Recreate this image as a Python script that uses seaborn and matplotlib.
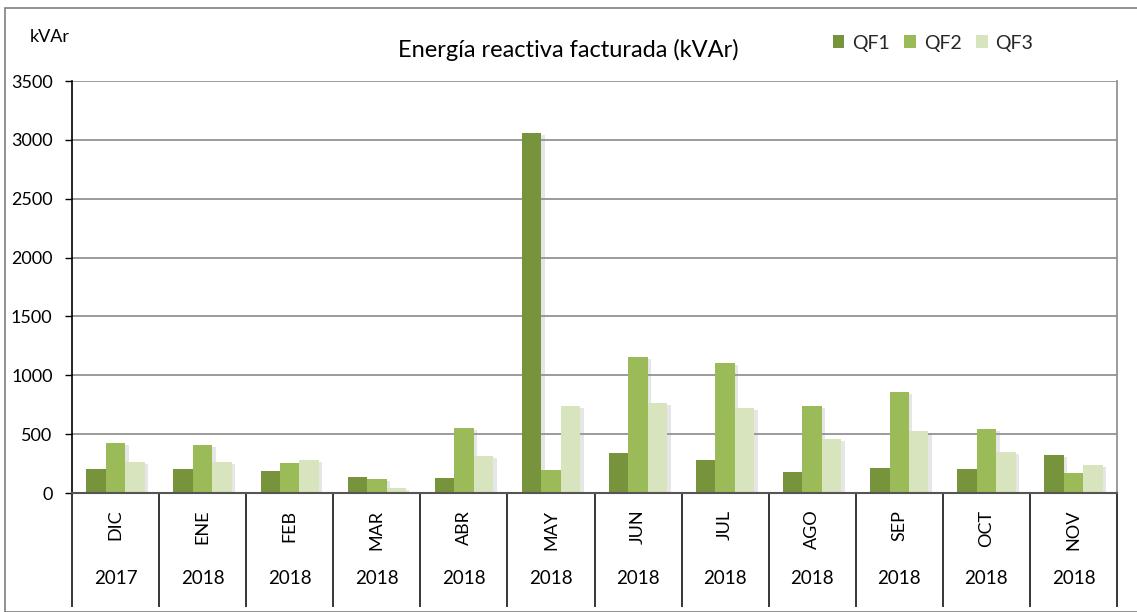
import numpy as np
import pandas as pd
import seaborn as sns
import matplotlib
matplotlib.use("Agg")
import matplotlib.pyplot as plt
import matplotlib.patheffects as pe
from matplotlib.patches import Rectangle

months = ["DIC", "ENE", "FEB", "MAR", "ABR", "MAY", "JUN", "JUL", "AGO", "SEP", "OCT", "NOV"]
years = ["2017", "2018", "2018", "2018", "2018", "2018", "2018", "2018", "2018", "2018", "2018", "2018"]
qf1 = [204, 204, 184, 136, 130, 3061, 342, 280, 178, 210, 201, 320]
qf2 = [428, 408, 255, 119, 552, 195, 1153, 1102, 736, 858, 541, 172]
qf3 = [263, 263, 280, 45, 314, 742, 765, 725, 459, 527, 348, 238]
series = ["QF1", "QF2", "QF3"]
colors = ["#77933C", "#9BBB59", "#D7E4BD"]
yticks = [0, 500, 1000, 1500, 2000, 2500, 3000, 3500]

df = pd.DataFrame({
    "mes": months * 3,
    "serie": ["QF1"] * 12 + ["QF2"] * 12 + ["QF3"] * 12,
    "valor": qf1 + qf2 + qf3,
})

sns.set_theme(style="white")
plt.rcParams["font.family"] = ["Lato", "DejaVu Sans"]

fig = plt.figure(figsize=(11.37, 6.12), dpi=100)
ax = fig.add_axes([72 / 1137, 1 - 493 / 612, 1045 / 1137, 412 / 612])

sns.barplot(data=df, x="mes", y="valor", hue="serie", order=months,
            hue_order=series, palette=colors, width=0.67, ax=ax,
            saturation=1, legend=False, linewidth=0)

for p in ax.patches:
    p.set_path_effects([pe.SimplePatchShadow(offset=(2.5, -1.5), shadow_rgbFace="#909090", alpha=0.22),
                        pe.Normal()])

ax.set_ylim(0, 3500)
ax.set_xlim(-0.5, 11.5)
ax.set_yticks(yticks)
ax.set_yticklabels([str(v) for v in yticks], fontsize=13, color="black")
ax.yaxis.grid(True, color="#8a8a8a", linewidth=1.2)
ax.set_axisbelow(True)
ax.tick_params(axis="y", which="major", direction="out", length=5, width=1, color="black", pad=9, left=True)

ax.set_xticks(range(12))
ax.set_xticklabels(months, rotation=90, fontsize=13, color="black")
ax.tick_params(axis="x", which="major", length=0, pad=12)
ax.set_xticks(np.arange(-0.5, 12, 1), minor=True)
ax.tick_params(axis="x", which="minor", direction="out", length=82, width=1.1, color="black", bottom=True)

for i, yr in enumerate(years):
    ax.text(i, -85 / 412, yr, ha="center", va="center", fontsize=13.5, color="black",
            transform=ax.get_xaxis_transform(), clip_on=False)

ax.set_xlabel("")
ax.set_ylabel("")
ax.spines["top"].set_visible(False)
ax.spines["left"].set_color("black")
ax.spines["left"].set_linewidth(1.2)
ax.spines["bottom"].set_color("#555555")
ax.spines["bottom"].set_linewidth(1.5)
ax.spines["right"].set_color("#8a8a8a")
ax.spines["right"].set_linewidth(1.2)

fig.text(568 / 1137, 1 - 50 / 612, "Energía reactiva facturada (kVAr)", ha="center", va="center",
         fontsize=17, color="black")
fig.text(50 / 1137, 1 - 37 / 612, "kVAr", ha="center", va="center", fontsize=13, color="black")

handles = [Rectangle((0, 0), 1, 1, facecolor=c, edgecolor="none") for c in colors]
fig.legend(handles, series, loc="center", bbox_to_anchor=(933 / 1137, 1 - 43 / 612), ncol=3,
           frameon=False, fontsize=14, handlelength=0.6, handleheight=0.6,
           handletextpad=0.4, columnspacing=0.75)

fig.patches.append(Rectangle((5 / 1137, 0), 1.0, (612 - 8) / 612, transform=fig.transFigure,
                             fill=False, edgecolor="#7f7f7f", linewidth=1.2))

fig.savefig("out.png", dpi=100, facecolor="white")
